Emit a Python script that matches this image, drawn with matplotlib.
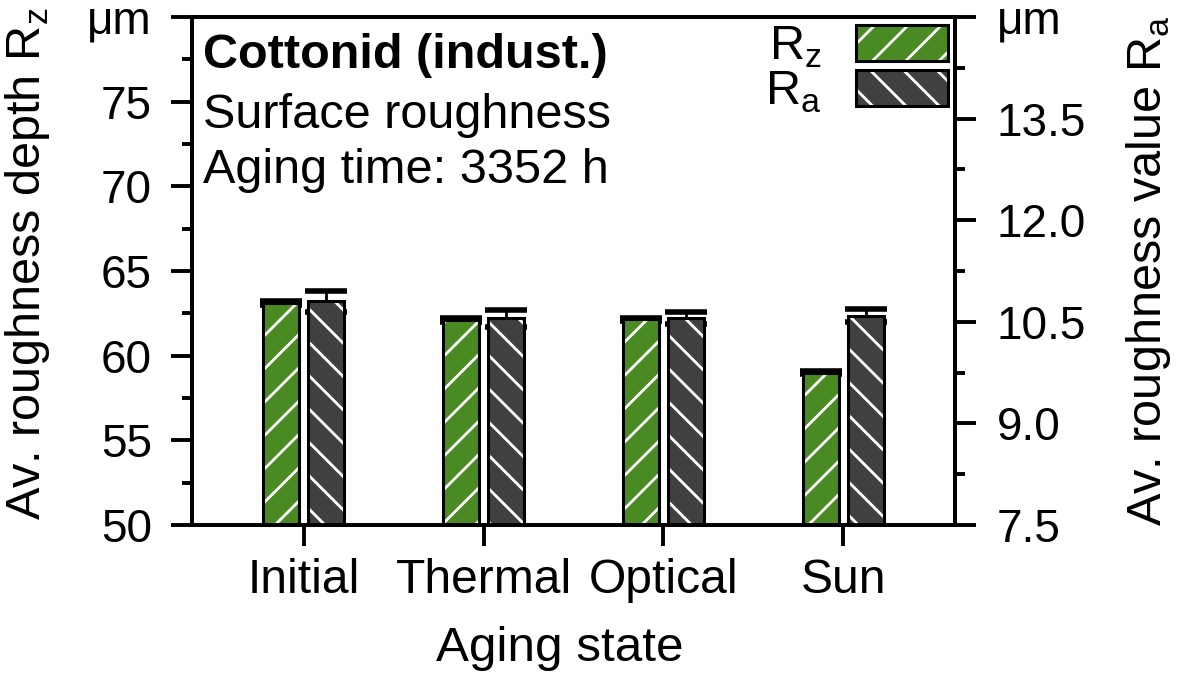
import matplotlib
matplotlib.use("Agg")
import matplotlib.pyplot as plt
import numpy as np
from matplotlib.patches import Patch
from matplotlib.legend_handler import HandlerTuple
from matplotlib.ticker import MultipleLocator

# data
states = ["Initial", "Thermal", "Optical", "Sun"]
rz_mean = [63.1, 62.1, 62.15, 59.0]
rz_err = [0.1, 0.1, 0.1, 0.1]
ra_mean = [10.80, 10.55, 10.56, 10.59]
ra_err = [0.15, 0.12, 0.09, 0.10]

rz_ticks = [50, 55, 60, 65, 70, 75, 80]
rz_ticklabels = ["50", "55", "60", "65", "70", "75", "μm"]
ra_ticks = [7.5, 9.0, 10.5, 12.0, 13.5, 15.0]
ra_ticklabels = ["7.5", "9.0", "10.5", "12.0", "13.5", "μm"]

plt.rcParams["font.family"] = ["Liberation Sans", "DejaVu Sans"]
plt.rcParams["mathtext.fontset"] = "custom"
plt.rcParams["mathtext.rm"] = "Liberation Sans"
plt.rcParams["hatch.linewidth"] = 1.0

GREEN = "#4a8a22"
DARK = "#404040"
LW = 1.4

fig = plt.figure(figsize=(5.905, 3.395), dpi=200)
ax = fig.add_axes([0.1626, 0.2268, 0.6460, 0.7482])
ax2 = ax.twinx()

x = np.arange(1, len(states) + 1)
w = 0.2
off = 0.125


def hatched_bars(axis, xs, vals, errs, color, hatch):
    axis.errorbar(xs, vals, yerr=errs, fmt="none", ecolor="black",
                  elinewidth=1.0, capsize=7.4, capthick=2.0, zorder=1)
    # fill + white hatch, then black outline on top
    axis.bar(xs, vals, w, color=color, edgecolor="white", linewidth=0,
             hatch=hatch, zorder=2)
    axis.bar(xs, vals, w, fill=False, edgecolor="black", linewidth=1.1, zorder=3)


hatched_bars(ax, x - off, rz_mean, rz_err, GREEN, "//")
hatched_bars(ax2, x + off, ra_mean, ra_err, DARK, "\\\\")

ax.set_xlim(0.38, 4.62)
ax.set_ylim(50, 80)
ax2.set_ylim(7.5, 15)

ax.set_xticks(x, states)
ax.set_yticks(rz_ticks, rz_ticklabels)
ax.yaxis.set_minor_locator(MultipleLocator(2.5))
ax2.set_yticks(ra_ticks, ra_ticklabels)
ax2.yaxis.set_minor_locator(MultipleLocator(0.75))

ax.tick_params(axis="x", which="major", direction="out", length=7.5, width=LW,
               pad=4.5, labelsize=17.3)
ax.tick_params(axis="y", which="major", direction="out", length=7.5, width=LW,
               pad=7, labelsize=16.5)
ax.tick_params(axis="y", which="minor", direction="out", length=3.6, width=LW)
ax2.tick_params(axis="y", which="major", direction="out", length=7.5, width=LW,
                pad=7.5, labelsize=16.5)
ax2.tick_params(axis="y", which="minor", direction="out", length=3.6, width=LW)

for a in (ax, ax2):
    for sp in a.spines.values():
        sp.set_linewidth(LW)

ax.set_ylabel("Av. roughness depth R$_{\\mathregular{z}}$", fontsize=17.5)
ax.yaxis.set_label_coords(-0.183, 0.515)
ax2.set_ylabel("Av. roughness value R$_{\\mathregular{a}}$", fontsize=17.5)
ax2.yaxis.set_label_coords(1.221, 0.5)
ax.set_xlabel("Aging state", fontsize=17.8)
ax.xaxis.set_label_coords(0.482, -0.199)

ax.text(0.0144, 0.8996, "Cottonid (indust.)", transform=ax.transAxes,
        fontsize=17.5, fontweight="bold", va="baseline")
ax.text(0.0144, 0.7815, "Surface roughness", transform=ax.transAxes,
        fontsize=17.5, va="baseline")
ax.text(0.0144, 0.673, "Aging time: 3352 h", transform=ax.transAxes,
        fontsize=17.5, va="baseline")

handles = [
    (Patch(facecolor=GREEN, edgecolor="white", linewidth=0, hatch="//"),
     Patch(fill=False, edgecolor="black", linewidth=1.1)),
    (Patch(facecolor=DARK, edgecolor="white", linewidth=0, hatch="\\\\"),
     Patch(fill=False, edgecolor="black", linewidth=1.1)),
]
ax2.legend(handles, ["R$_{\\mathregular{z}}$", "R$_{\\mathregular{a}}$"],
           handler_map={tuple: HandlerTuple(ndivide=1, pad=0)},
           loc="upper right", bbox_to_anchor=(0.991, 0.984),
           markerfirst=False, frameon=False, fontsize=17.5,
           handlelength=1.9, handleheight=0.75, handletextpad=0.7,
           labelspacing=0.0, borderpad=0, borderaxespad=0)

fig.savefig("out.png", dpi=200)
